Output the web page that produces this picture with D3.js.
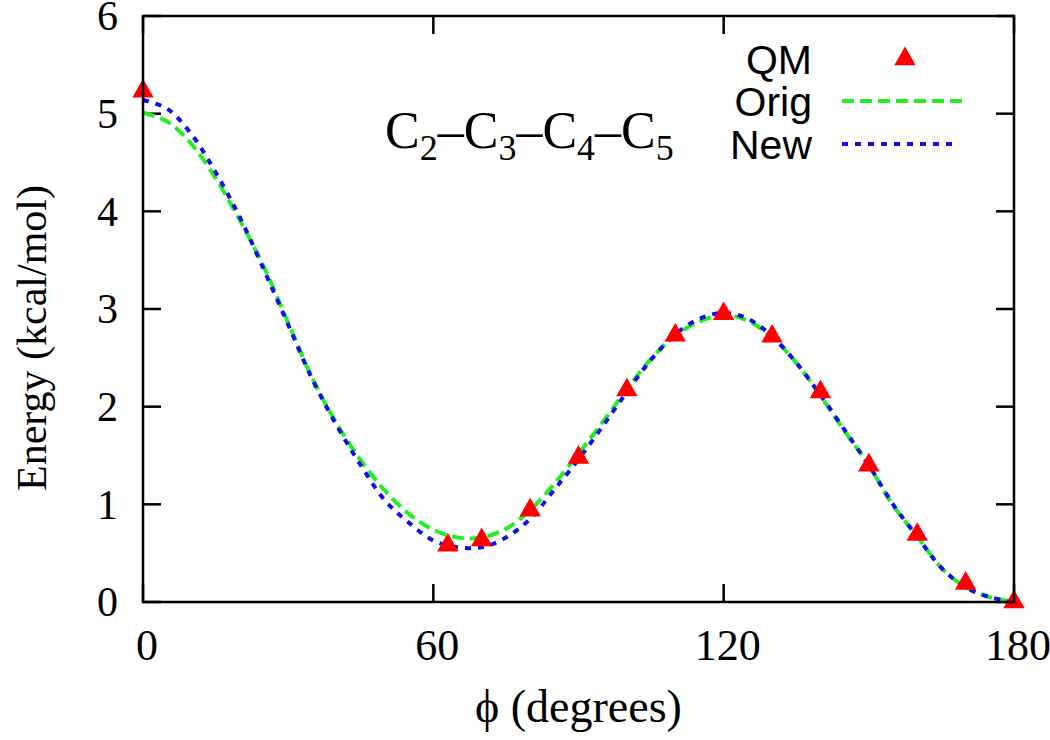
<!DOCTYPE html>
<html><head><meta charset="utf-8">
<script src="https://cdn.jsdelivr.net/npm/d3@7"></script>
<style>body{margin:0;background:#fff}svg{display:block}</style>
</head><body>
<script>
// ---- data ----
const qmPhi = [0, 63, 70, 80, 90, 100, 110, 120, 130, 140, 150, 160, 170, 180];
const qmE   = [5.23, 0.58, 0.635, 0.94, 1.48, 2.17, 2.73, 2.95, 2.72, 2.15, 1.40, 0.69, 0.19, 0.0];
const curvePhi = [0,5,10,15,20,25,30,35,40,45,50,55,60,65,70,75,80,85,90,95,100,105,110,115,120,125,130,135,140,145,150,155,160,165,170,175,180];
const origE = [5.01,4.92,4.69,4.34,3.91,3.43,2.86,2.29,1.83,1.45,1.14,0.90,0.74,0.66,0.66,0.75,0.94,1.21,1.52,1.84,2.18,2.49,2.73,2.87,2.94,2.88,2.71,2.45,2.11,1.75,1.40,0.99,0.67,0.35,0.15,0.05,0.00];
const newE  = [5.14,5.05,4.79,4.40,3.94,3.40,2.84,2.28,1.81,1.40,1.04,0.81,0.63,0.56,0.56,0.66,0.85,1.15,1.46,1.80,2.15,2.48,2.74,2.90,2.96,2.90,2.72,2.45,2.12,1.76,1.40,1.00,0.67,0.35,0.15,0.05,0.00];
const xTicks = [0, 60, 120, 180];
const yTicks = [0, 1, 2, 3, 4, 5, 6];
const seriesNames = ["QM", "Orig", "New"];

const W = 1050, H = 740;
const L = 143, R = 1014, T = 16, B = 602;
const svg = d3.select("body").append("svg").attr("width", W).attr("height", H);
const x = d3.scaleLinear().domain([0, 180]).range([L, R]);
const y = d3.scaleLinear().domain([0, 6]).range([B, T]);
const serif = "'Liberation Serif','Times New Roman',serif";
const sans = "'Liberation Sans',Arial,sans-serif";

// ticks (inward, mirrored)
const tickLen = 18;
const g = svg.append("g").attr("stroke", "#000").attr("stroke-width", 2.5);
yTicks.forEach(v => {
  g.append("line").attr("x1", L).attr("x2", L + tickLen).attr("y1", y(v)).attr("y2", y(v));
  g.append("line").attr("x1", R).attr("x2", R - tickLen).attr("y1", y(v)).attr("y2", y(v));
});
xTicks.forEach(v => {
  g.append("line").attr("x1", x(v)).attr("x2", x(v)).attr("y1", B).attr("y2", B - tickLen);
  g.append("line").attr("x1", x(v)).attr("x2", x(v)).attr("y1", T).attr("y2", T + tickLen);
});

// tick labels
svg.append("g").selectAll("text").data(yTicks).join("text")
  .attr("x", L - 25).attr("y", d => y(d)).attr("dy", "0.34em")
  .attr("text-anchor", "end").attr("font-family", serif).attr("font-size", 42)
  .text(d => d);
svg.append("g").selectAll("text").data(xTicks).join("text")
  .attr("x", d => x(d) + 4).attr("y", 660)
  .attr("text-anchor", "middle").attr("font-family", serif).attr("font-size", 44)
  .text(d => d);

// axis titles
svg.append("text").attr("x", (L + R) / 2).attr("y", 722).attr("text-anchor", "middle")
  .attr("font-family", serif).attr("font-size", 46).text("\u03D5 (degrees)");
svg.append("text").attr("transform", `translate(46,338) rotate(-90)`).attr("text-anchor", "middle")
  .attr("font-family", serif).attr("font-size", 42).text("Energy (kcal/mol)");

// curves
const line = d3.line().x(d => x(d[0])).y(d => y(d[1])).curve(d3.curveCatmullRom);
const origPts = curvePhi.map((p, i) => [p, origE[i]]);
const newPts = curvePhi.map((p, i) => [p, newE[i]]);
const green = "#22ee22", blue = "#1010ee", red = "#ff0000";
svg.append("path").datum(origPts).attr("d", line).attr("fill", "none")
  .attr("stroke", green).attr("stroke-width", 4).attr("stroke-dasharray", "12,6");
svg.append("path").datum(newPts).attr("d", line).attr("fill", "none")
  .attr("stroke", blue).attr("stroke-width", 4).attr("stroke-dasharray", "6,7");

// QM triangles
const tri = d3.symbol().type(d3.symbolTriangle).size(200);
svg.append("g").selectAll("path").data(qmPhi.map((p, i) => [p, qmE[i]])).join("path")
  .attr("transform", d => `translate(${x(d[0])},${y(d[1])})`)
  .attr("d", tri).attr("fill", red);

// frame
svg.append("rect").attr("x", L).attr("y", T).attr("width", R - L).attr("height", B - T)
  .attr("fill", "none").attr("stroke", "#000").attr("stroke-width", 2.5);

// title
const title = svg.append("text").attr("x", 385).attr("y", 148)
  .attr("font-family", serif).attr("font-size", 52);
const parts = [["C", "2"], ["C", "3"], ["C", "4"], ["C", "5"]];
parts.forEach((p, i) => {
  if (i > 0) title.append("tspan").attr("dy", -12).text("\u2013");
  title.append("tspan").text(p[0]);
  title.append("tspan").attr("dy", 12).attr("font-size", 36).text(p[1]);
});

// legend
const legY = [59, 101, 144];
seriesNames.forEach((n, i) => {
  svg.append("text").attr("x", 812).attr("y", legY[i]).attr("dy", "0.36em")
    .attr("text-anchor", "end").attr("font-family", sans).attr("font-size", 41).text(n);
});
svg.append("path").attr("transform", `translate(905,${legY[0]})`).attr("d", tri).attr("fill", red);
svg.append("line").attr("x1", 842).attr("x2", 962).attr("y1", legY[1]).attr("y2", legY[1])
  .attr("stroke", green).attr("stroke-width", 4).attr("stroke-dasharray", "12,6");
svg.append("line").attr("x1", 842).attr("x2", 952).attr("y1", legY[2]).attr("y2", legY[2])
  .attr("stroke", blue).attr("stroke-width", 4).attr("stroke-dasharray", "6,7");
</script>
</body></html>
